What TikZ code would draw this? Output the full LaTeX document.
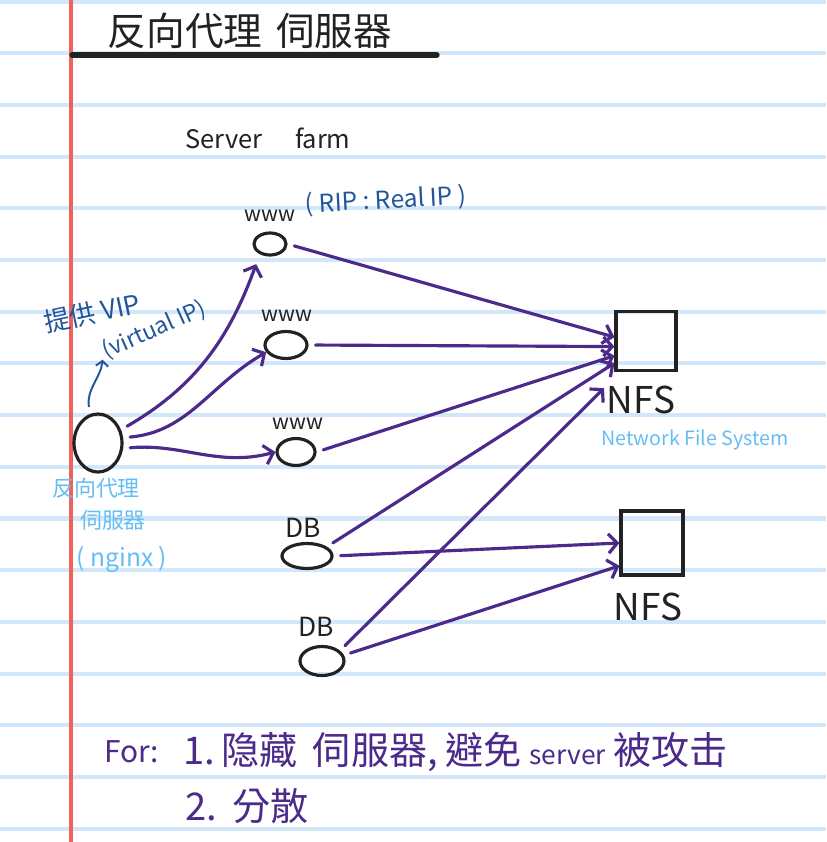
\documentclass[tikz,border=0pt]{standalone}
\usepackage{fontspec}
\setmainfont{Noto Sans CJK TC}
\usetikzlibrary{shapes.geometric,arrows.meta}
\definecolor{pen}{RGB}{34,34,34}
\definecolor{ink}{RGB}{76,42,140}
\definecolor{note}{RGB}{35,85,155}
\definecolor{sky}{RGB}{100,190,245}
\definecolor{ruling}{RGB}{210,232,250}
\definecolor{margin}{RGB}{238,98,92}
\newcommand{\fsz}[1]{\fontsize{#1}{#1}\selectfont}
\begin{document}
\begin{tikzpicture}[
	x=0.02cm, y=0.02cm,
	host/.style={draw=pen, ellipse, line width=1.8pt, inner sep=0pt},
	store/.style={draw=pen, rectangle, line width=1.8pt, inner sep=0pt,
		minimum width=1.2cm, minimum height=1.18cm},
	tag/.style={text=pen, inner sep=0pt},
	flow/.style={draw=ink, line width=1.8pt, line cap=round,
		shorten <=4pt, -{Straight Barb[length=5pt,width=11pt]}},
	hint/.style={text=sky, inner sep=0pt},
	aside/.style={text=note, inner sep=0pt},
	memo/.style={text=ink, inner sep=0pt, anchor=west, font=\fsz{21.7}},
]

\fill[white] (0,0) rectangle (826,-842);
\useasboundingbox (0,0) rectangle (826,-842);
\foreach \k in {0,...,16}
	\draw[ruling, line width=2.3pt] (0,{-1.5-51.7*\k}) -- (826,{-1.5-51.7*\k});
\draw[margin, line width=2.6pt] (71,0) -- (71,-842);

\node[tag, font=\fsz{22}] (title) at (250,-31) {反向代理\hspace{0.35em}伺服器};
\draw[pen, line width=3pt, line cap=round] (72,-55) -- (437,-55);
\node[tag, font=\fsz{14.5}] (farm) at (268,-138) {Server\hspace{0.65cm}farm};

\node[host, minimum width=0.96cm, minimum height=1.16cm] (proxy) at (98,-443) {};
\node[host, minimum width=0.64cm, minimum height=0.44cm] (www1) at (270,-244) {};
\node[host, minimum width=0.84cm, minimum height=0.54cm] (www2) at (286,-345) {};
\node[host, minimum width=0.76cm, minimum height=0.54cm] (www3) at (296,-452) {};
\node[host, minimum width=1.0cm, minimum height=0.5cm] (db1) at (307,-556) {};
\node[host, minimum width=0.88cm, minimum height=0.58cm] (db2) at (322,-661) {};
\node[store] (nfs1) at (646,-341) {};
\node[store, minimum width=1.24cm, minimum height=1.28cm] (nfs2) at (652,-543) {};

\node[tag, font=\fsz{12}] (www1t) at (270,-216) {www};
\node[tag, font=\fsz{12}] (www2t) at (287,-316) {www};
\node[tag, font=\fsz{12}] (www3t) at (298,-424) {www};
\node[tag, font=\fsz{15}] (db1t) at (303,-528) {DB};
\node[tag, font=\fsz{15}] (db2t) at (316,-627) {DB};
\node[tag, font=\fsz{21}] (nfs1t) at (641,-400) {NFS};
\node[tag, font=\fsz{21}] (nfs2t) at (648,-607) {NFS};

\node[aside, font=\fsz{14}, rotate=3] (rip) at (386,-201) {( RIP : Real IP )};
\node[aside, font=\fsz{15}, rotate=12] (vip) at (92,-313) {提供 VIP};
\node[aside, font=\fsz{13}, rotate=24] (virt) at (154,-330) {(virtual IP)};
\draw[note, line width=1.1pt, shorten <=4pt, shorten >=4pt,
	-{Straight Barb[length=3pt,width=7pt]}] (proxy.105) to[out=100,in=-95] (virt.west);

\node[hint, font=\fsz{12.5}] (role1) at (96,-488) {反向代理};
\node[hint, font=\fsz{12.5}] (role2) at (113,-520) {伺服器};
\node[hint, font=\fsz{14}] (role3) at (122,-560) {( nginx )};
\node[hint, font=\fsz{11.2}] (nfsnote) at (695,-440) {Network File System};

\draw[flow, shorten >=6pt] (proxy.30) to[out=30,in=-110] (www1.-135);
\draw[flow] (proxy.12) to[out=5,in=-150] (www2.-160);
\draw[flow] (proxy.-12) to[out=5,in=195] (www3.west);

\draw[flow] (www1.east) -- (nfs1.173);
\draw[flow] (www2.east) -- (nfs1.190);
\draw[flow] (www3.east) -- (nfs1.205);
\draw[flow] (db1.25) -- (nfs1.215);
\draw[flow] (db1.east) -- (nfs2.west);
\draw[flow, shorten >=2pt] (db2.30) -- (nfs1t.north west);
\draw[flow] (db2.15) -- (nfs2.215);

\node[memo, font=\fsz{17}] (for) at (104,-752) {For:};
\node[memo] (goal1) at (183,-752) {1.\,隐藏\hspace{0.4em}伺服器,\hspace{0.2em}避免\hspace{0.2em}{\fsz{15}server}\hspace{0.2em}被攻击};
\node[memo] (goal2) at (185,-806) {2.\hspace{0.4em}分散};

\end{tikzpicture}
\end{document}
